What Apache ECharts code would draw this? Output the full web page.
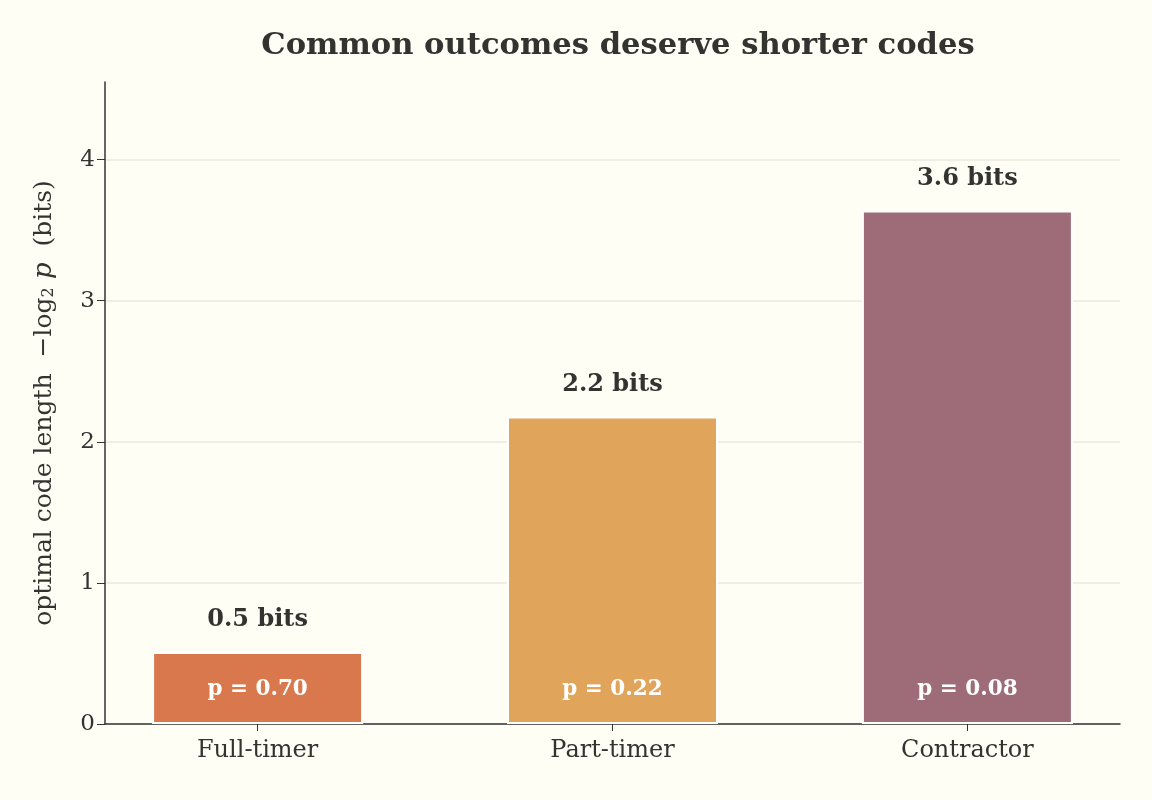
<!DOCTYPE html>
<html>
<head>
<meta charset="utf-8">
<script src="https://cdn.jsdelivr.net/npm/echarts@6/dist/echarts.min.js"></script>
<style>
  html, body { margin: 0; padding: 0; background: #fffef5; }
  #chart { width: 1152px; height: 800px; }
</style>
</head>
<body>
<div id="chart"></div>
<script>
const categories = ['Full-timer', 'Part-timer', 'Contractor']
const probs = [0.70, 0.22, 0.08]
const codeLength = [0.51, 2.18, 3.64] // -log2 p
const bitLabels = ['0.5 bits', '2.2 bits', '3.6 bits']
const colors = ['#d9784c', '#e0a55a', '#9e6b78']

const serif = '"DejaVu Serif", "Liberation Serif", serif'
const ink = '#333330'

const chart = echarts.init(document.getElementById('chart'))

// categories sit at 0, 1, 2 on a padded value axis
const positions = categories.map((c, i) => i)

chart.setOption({
  backgroundColor: '#fffef5',
  animation: false,
  title: {
    text: 'Common outcomes deserve shorter codes',
    left: 613,
    textAlign: 'center',
    top: 26,
    textStyle: { fontFamily: serif, fontSize: 30.6, fontWeight: 'bold', color: ink }
  },
  grid: { left: 105, right: 32, top: 82, bottom: 76 },
  xAxis: {
    type: 'value',
    min: -0.43,
    max: 2.43,
    splitLine: { show: false },
    axisLine: { show: true, onZero: false, lineStyle: { color: ink, width: 1.5 } },
    axisTick: { show: true, customValues: positions, length: 7, lineStyle: { color: ink } },
    axisLabel: {
      customValues: positions,
      formatter: v => categories[Math.round(v)],
      fontFamily: serif, fontSize: 24, color: ink, margin: 15
    }
  },
  yAxis: {
    type: 'value',
    min: 0,
    max: 4.55,
    interval: 1,
    name: '{t|optimal code length  −log}{s|2}{i| p}{t|  (bits)}',
    nameLocation: 'middle',
    nameRotate: 90,
    nameGap: 48,
    nameTextStyle: {
      rich: {
        t: { fontFamily: serif, fontSize: 25, color: ink },
        s: { fontFamily: serif, fontSize: 16, color: ink, verticalAlign: 'bottom', padding: [10, 0, 0, 0] },
        i: { fontFamily: serif, fontSize: 26, color: ink, fontStyle: 'italic' }
      }
    },
    axisLine: { show: true, onZero: false, lineStyle: { color: ink, width: 1.5 } },
    axisTick: { show: true, length: 8, lineStyle: { color: ink } },
    axisLabel: {
      fontFamily: serif, fontSize: 23, color: ink, margin: 10,
      showMaxLabel: false
    },
    splitLine: { showMaxLine: false, lineStyle: { color: '#ebe9de', width: 1.5 } }
  },
  series: [{
    type: 'bar',
    barWidth: 211,
    data: codeLength.map((v, i) => ({ value: [positions[i], v], itemStyle: { color: colors[i] } })),
    itemStyle: { borderColor: '#ffffff', borderWidth: 2 },
    label: {
      show: true,
      position: 'top',
      distance: 20,
      formatter: p => bitLabels[p.dataIndex],
      fontFamily: serif, fontSize: 24, fontWeight: 'bold', color: ink
    }
  }, {
    type: 'bar',
    barWidth: 211,
    barGap: '-100%',
    data: codeLength.map((v, i) => [positions[i], v]),
    itemStyle: { color: 'transparent' },
    silent: true,
    label: {
      show: true,
      position: 'insideBottom',
      distance: 24,
      formatter: p => 'p = ' + probs[p.dataIndex].toFixed(2),
      fontFamily: serif, fontSize: 21.5, fontWeight: 'bold', color: '#ffffff'
    }
  }]
})
</script>
</body>
</html>
